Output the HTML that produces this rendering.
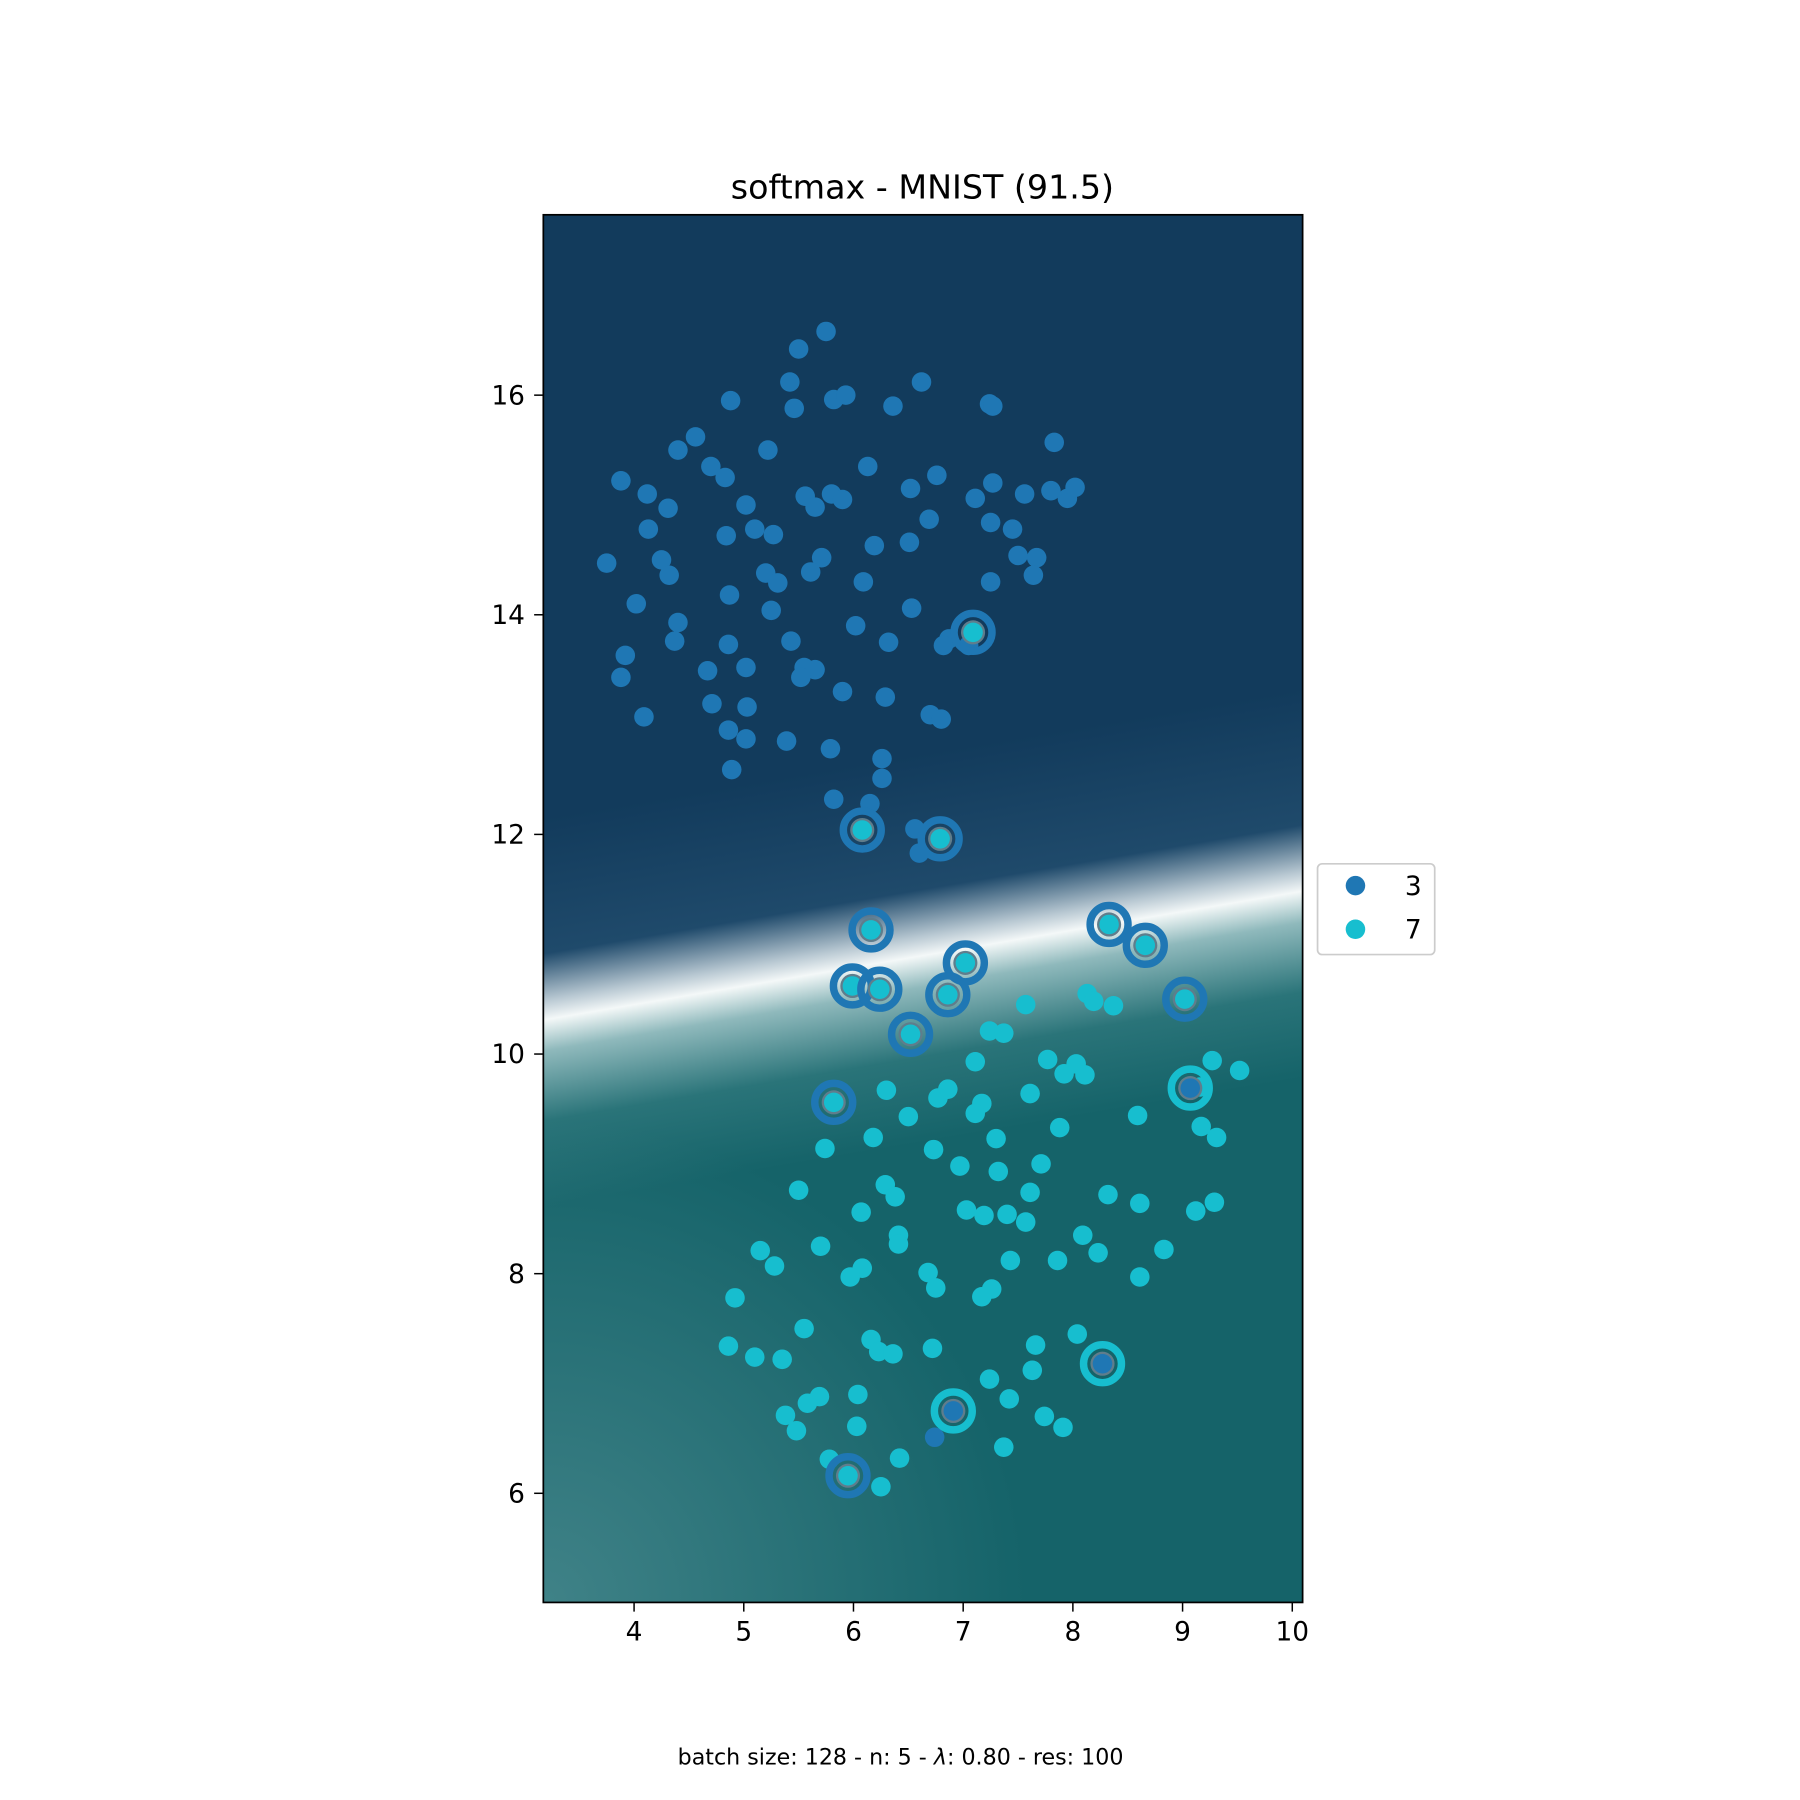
<!DOCTYPE html>
<html><head><meta charset="utf-8"><style>
html,body{margin:0;padding:0;background:#fff;}
svg{display:block;font-family:"DejaVu Sans","Liberation Sans",sans-serif;}
</style></head><body>
<svg id="chart" width="1800" height="1800" viewBox="0 0 1567 1567" xmlns="http://www.w3.org/2000/svg">
<defs>
<linearGradient id="bg" gradientUnits="userSpaceOnUse" x1="776" y1="660" x2="832" y2="990">
<stop offset="0" stop-color="#123b5c"/>
<stop offset="0.35" stop-color="#1f4a6b"/>
<stop offset="0.47" stop-color="#b8c8d2"/>
<stop offset="0.52" stop-color="#f4f8f8"/>
<stop offset="0.6" stop-color="#8fb9bc"/>
<stop offset="0.78" stop-color="#2a7479"/>
<stop offset="1" stop-color="#156369"/>
</linearGradient>
<radialGradient id="bl" gradientUnits="userSpaceOnUse" cx="473" cy="1395" r="420">
<stop offset="0" stop-color="#4a8a8f" stop-opacity="0.8"/>
<stop offset="1" stop-color="#4a8a8f" stop-opacity="0"/>
</radialGradient>
<clipPath id="clip"><rect x="473" y="187" width="661" height="1208"/></clipPath>
</defs>
<text x="803" y="173" font-size="29" text-anchor="middle">softmax - MNIST (91.5)</text>
<g clip-path="url(#clip)">
<rect x="473" y="187" width="661" height="1208" fill="url(#bg)"/>
<rect x="473" y="187" width="661" height="1208" fill="url(#bl)"/>
<g id="marks"></g>
</g>
<rect x="473" y="187" width="661" height="1208" fill="none" stroke="#000" stroke-width="1.5"/>
<g id="xticks"></g><g id="yticks"></g>
<g>
<rect x="1147" y="752" width="102" height="79" rx="4" fill="#fff" stroke="#ccc" stroke-width="1.5"/>
<circle cx="1180" cy="771" r="8.5" fill="#1f77b4"/>
<text x="1223" y="779" font-size="23">3</text>
<circle cx="1180" cy="809" r="8.5" fill="#17becf"/>
<text x="1223" y="817" font-size="23">7</text>
</g>
<text x="784" y="1536" font-size="19.3" text-anchor="middle">batch size: 128 - n: 5 - <tspan font-style="italic">λ</tspan>: 0.80 - res: 100</text>
</svg>
<script>
const xTicks=[4,5,6,7,8,9,10];
const yTicks=[6,8,10,12,14,16];
const blueX=[5.75,5.5,5.42,6.62,5.46,4.88,5.82,5.93,6.36,7.24,7.27,4.56,4.4,5.22,7.83,4.7,4.83,6.13,6.76,3.88,4.12,4.31,5.02,5.56,5.65,5.8,5.9,6.52,7.27,7.11,7.56,7.8,7.95,8.02,4.13,4.84,5.1,5.27,5.71,6.19,6.51,6.69,7.25,7.45,7.5,7.67,7.64,3.75,4.25,4.32,5.2,5.31,5.61,6.09,7.25,4.02,4.87,5.25,6.53,6.02,4.4,3.92,4.37,4.86,5.43,6.32,6.87,6.82,7.05,3.88,4.67,5.02,5.55,5.65,5.52,5.9,6.29,4.71,5.03,4.09,6.7,6.8,4.86,5.02,5.39,5.79,6.26,4.89,6.26,5.82,6.15,6.56,6.6,6.74];
const blueY=[16.58,16.42,16.12,16.12,15.88,15.95,15.96,16.0,15.9,15.92,15.9,15.62,15.5,15.5,15.57,15.35,15.25,15.35,15.27,15.22,15.1,14.97,15.0,15.08,14.98,15.1,15.05,15.15,15.2,15.06,15.1,15.13,15.06,15.16,14.78,14.72,14.78,14.73,14.52,14.63,14.66,14.87,14.84,14.78,14.54,14.52,14.36,14.47,14.5,14.36,14.38,14.29,14.39,14.3,14.3,14.1,14.18,14.04,14.06,13.9,13.93,13.63,13.76,13.73,13.76,13.75,13.78,13.72,13.72,13.43,13.49,13.52,13.52,13.5,13.43,13.3,13.25,13.19,13.16,13.07,13.09,13.05,12.95,12.87,12.85,12.78,12.69,12.59,12.51,12.32,12.28,12.05,11.83,6.51];
const cyanX=[7.57,8.13,8.19,8.37,7.24,7.37,7.11,7.77,8.03,7.92,8.11,9.27,9.52,9.16,6.30,6.86,6.77,7.17,7.11,7.61,8.59,6.50,7.88,9.17,9.31,6.18,7.30,5.74,6.73,7.71,6.97,7.32,6.29,5.50,7.61,8.32,6.38,8.61,9.29,9.12,7.03,7.19,7.40,6.07,7.57,6.41,8.09,6.41,5.70,5.15,8.23,8.83,5.28,7.86,7.43,6.08,5.97,6.68,8.61,6.75,7.26,7.17,4.92,5.55,8.04,6.16,6.23,6.36,6.72,7.66,4.86,5.10,5.35,7.63,7.24,6.04,5.69,5.58,7.42,5.38,7.74,6.03,7.91,5.48,7.37,5.78,6.42,6.25];
const cyanY=[10.45,10.55,10.48,10.44,10.21,10.19,9.93,9.95,9.91,9.82,9.81,9.94,9.85,9.70,9.67,9.68,9.60,9.55,9.46,9.64,9.44,9.43,9.33,9.34,9.24,9.24,9.23,9.14,9.13,9.00,8.98,8.93,8.81,8.76,8.74,8.72,8.70,8.64,8.65,8.57,8.58,8.53,8.54,8.56,8.47,8.35,8.35,8.27,8.25,8.21,8.19,8.22,8.07,8.12,8.12,8.05,7.97,8.01,7.97,7.87,7.86,7.79,7.78,7.50,7.45,7.40,7.29,7.27,7.32,7.35,7.34,7.24,7.22,7.12,7.04,6.90,6.88,6.82,6.86,6.71,6.70,6.61,6.60,6.57,6.42,6.31,6.32,6.06];
// ringed (misclassified) points: ring class (true label) and centre class (prediction)
const ringX=[7.09,6.08,6.79,6.16,8.33,8.66,7.02,5.99,6.24,6.86,9.02,6.52,5.82,5.95,9.07,8.27,6.91];
const ringY=[13.84,12.04,11.96,11.13,11.18,10.99,10.83,10.62,10.59,10.54,10.50,10.18,9.56,6.16,9.69,7.18,6.75];
const ringCls=[3,3,3,3,3,3,3,3,3,3,3,3,3,3,7,7,7];
const centerCls=[7,7,7,7,7,7,7,7,7,7,7,7,7,7,3,3,3];

const NS='http://www.w3.org/2000/svg';
const X0=473,X1=1134,Y0=187,Y1=1395;
function sx(v){return 552+(v-4)*95.5;}
function sy(v){return 344+(16-v)*95.6;}
const col={3:'#1f77b4',7:'#17becf'};
function mk(tag,attrs,parent){const e=document.createElementNS(NS,tag);for(const k in attrs)e.setAttribute(k,attrs[k]);parent.appendChild(e);return e;}
const marks=document.getElementById('marks');
for(let i=0;i<blueX.length;i++){
 const c=mk('circle',{cx:sx(blueX[i]),cy:sy(blueY[i]),r:8.5,fill:col[3]},marks);
 
 
}
for(let i=0;i<cyanX.length;i++){
 const c=mk('circle',{cx:sx(cyanX[i]),cy:sy(cyanY[i]),r:8.5,fill:col[7]},marks);
 
 
}
for(let i=0;i<ringX.length;i++){
 const g=mk('g',{},marks);
 
 
 mk('circle',{cx:sx(ringX[i]),cy:sy(ringY[i]),r:16.5,fill:'none',stroke:col[ringCls[i]],'stroke-width':6.5},g);
 mk('circle',{cx:sx(ringX[i]),cy:sy(ringY[i]),r:10.5,fill:'#5f7d8c'},g);
 mk('circle',{cx:sx(ringX[i]),cy:sy(ringY[i]),r:8.5,fill:col[centerCls[i]]},g);
}
const xt=document.getElementById('xticks');
xTicks.forEach(v=>{
 const x=sx(v);
 const l=mk('line',{x1:x,x2:x,y1:Y1,y2:Y1+8,stroke:'#000','stroke-width':1.3},xt);
 
 
 const t=mk('text',{x:x,y:Y1+33,'font-size':23,'text-anchor':'middle'},xt);
 t.textContent=v;
 
 
});
const yt=document.getElementById('yticks');
yTicks.forEach(v=>{
 const y=sy(v);
 const l=mk('line',{x1:X0-8,x2:X0,y1:y,y2:y,stroke:'#000','stroke-width':1.3},yt);
 
 
 const t=mk('text',{x:X0-16,y:y+8,'font-size':23,'text-anchor':'end'},yt);
 t.textContent=v;
 
 
});
</script>
</body></html>
